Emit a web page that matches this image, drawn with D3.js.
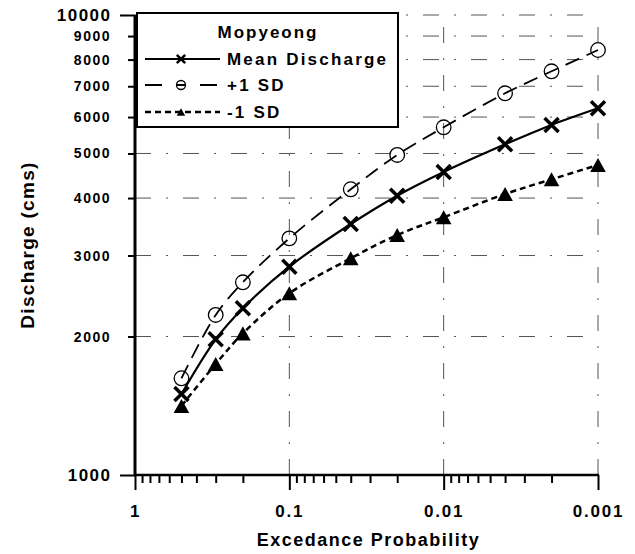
<!DOCTYPE html>
<html lang="en">
<head>
<meta charset="utf-8">
<title>Mopyeong discharge</title>
<script src="https://cdn.jsdelivr.net/npm/d3@7"></script>
<style>
  body { margin: 0; background: #fff; }
  text { font-family: "Liberation Sans", Arial, sans-serif; font-weight: bold; fill: #000; }
</style>
</head>
<body>
<script>
// data
var probs = [0.5, 0.3, 0.2, 0.1, 0.04, 0.02, 0.01, 0.004, 0.002, 0.001];
var meanQ = [1500, 1972, 2304, 2837, 3513, 4048, 4558, 5235, 5768, 6269];
var plusSD = [1623, 2228, 2624, 3269, 4180, 4963, 5700, 6757, 7544, 8393];
var minusSD = [1413, 1743, 2032, 2483, 2958, 3325, 3633, 4082, 4393, 4720];

var xMajor = [1, 0.1, 0.01, 0.001];
var xLabels = ["1", "0.1", "0.01", "0.001"];
var yTicks = [1000, 2000, 3000, 4000, 5000, 6000, 7000, 8000, 9000, 10000];
var legendTitle = "Mopyeong";
var seriesNames = ["Mean Discharge", "+1 SD", "-1 SD"];

var w = 635, h = 554;
var pLeft = 135, pRight = 598, pTop = 15, pBottom = 475;

var svg = d3.select("body").append("svg")
    .attr("width", w)
    .attr("height", h);

var x = d3.scaleLog().domain([1, 0.001]).range([pLeft, pRight]);
var y = d3.scaleLog().domain([1000, 10000]).range([pBottom, pTop]);

// minor ticks for x (2..9 in each decade)
var xMinor = [];
xMajor.slice(0, 3).forEach(function(d) {
  for (var k = 2; k <= 9; k++) xMinor.push(d * k / 10);
});

// grid
var gridDash = "16,15,2,15";
svg.append("g").selectAll("line")
   .data(yTicks.slice(1))
   .enter().append("line")
   .attr("x1", pLeft).attr("x2", pRight)
   .attr("y1", function(d) { return y(d); })
   .attr("y2", function(d) { return y(d); })
   .attr("stroke", "#555").attr("stroke-width", 1)
   .attr("stroke-dasharray", gridDash);

svg.append("g").selectAll("line")
   .data(xMajor.slice(1))
   .enter().append("line")
   .attr("x1", function(d) { return x(d); })
   .attr("x2", function(d) { return x(d); })
   .attr("y1", pBottom).attr("y2", pTop)
   .attr("stroke", "#555").attr("stroke-width", 1)
   .attr("stroke-dasharray", gridDash);

// x axis
var xAxis = svg.append("g")
   .attr("transform", "translate(0," + pBottom + ")")
   .call(d3.axisBottom(x).tickValues(xMajor.concat(xMinor)).tickSize(8).tickFormat(""));
xAxis.select(".domain").remove();
xAxis.selectAll(".tick line").attr("stroke-width", 2);
xAxis.selectAll(".tick").filter(function(d) { return xMajor.indexOf(d) >= 0; })
     .select("line").attr("y2", 15);
xAxis.selectAll(".tick").filter(function(d) { return xMajor.indexOf(d) >= 0; })
     .select("text")
     .text(function(d) { return xLabels[xMajor.indexOf(d)]; })
     .attr("y", 30)
     .attr("font-size", "17px")
     .attr("letter-spacing", "1.8px")
     .attr("font-family", "Liberation Sans, Arial, sans-serif")
     .attr("font-weight", "bold")
     .attr("fill", "#000");
svg.append("line")
   .attr("x1", pLeft - 1).attr("x2", pRight + 1)
   .attr("y1", pBottom).attr("y2", pBottom)
   .attr("stroke", "#000").attr("stroke-width", 2.5);

// y axis
var yAxis = svg.append("g")
   .attr("transform", "translate(" + pLeft + ",0)")
   .call(d3.axisLeft(y).tickValues(yTicks).tickSize(7).tickPadding(17).tickFormat(d3.format("d")));
yAxis.select(".domain").remove();
yAxis.selectAll(".tick line").attr("stroke-width", 2);
yAxis.selectAll(".tick text")
     .attr("font-size", "14px")
     .attr("letter-spacing", "1.5px")
     .attr("font-family", "Liberation Sans, Arial, sans-serif")
     .attr("font-weight", "bold")
     .attr("fill", "#000");
yAxis.selectAll(".tick").filter(function(d) { return d === 1000 || d === 10000; })
     .each(function() {
       d3.select(this).select("line").attr("x2", -15);
       d3.select(this).select("text").attr("x", -23.5).attr("font-size", "17px");
     });
svg.append("line")
   .attr("x1", pLeft).attr("x2", pLeft)
   .attr("y1", pTop).attr("y2", pBottom + 1)
   .attr("stroke", "#000").attr("stroke-width", 3);

// axis titles
svg.append("text")
   .attr("x", (pLeft + pRight) / 2 + 2)
   .attr("y", 546)
   .attr("text-anchor", "middle")
   .attr("font-size", "18px")
   .attr("letter-spacing", "1.5px")
   .text("Excedance Probability");

svg.append("text")
   .attr("transform", "translate(34,245) rotate(-90)")
   .attr("text-anchor", "middle")
   .attr("font-size", "19px")
   .attr("letter-spacing", "1.3px")
   .text("Discharge (cms)");

// series
var series = [
  { values: meanQ, dash: null, legendDash: null, width: 2.2, marker: "x" },
  { values: plusSD, dash: "15,8", legendDash: "17,14,10,14,17", width: 1.8, marker: "circle" },
  { values: minusSD, dash: "6,4", legendDash: "6,4", width: 2.5, marker: "tri" }
];

var line = d3.line()
   .x(function(d) { return x(d[0]); })
   .y(function(d) { return y(d[1]); })
   .curve(d3.curveCatmullRom.alpha(0.5));

function drawMarker(g, type, cx, cy, s) {
  if (type === "x") {
    g.append("path")
     .attr("d", "M" + (cx - s) + "," + (cy - s) + "L" + (cx + s) + "," + (cy + s) +
                "M" + (cx - s) + "," + (cy + s) + "L" + (cx + s) + "," + (cy - s))
     .attr("stroke", "#000").attr("stroke-width", s > 5 ? 3.5 : 2.5).attr("fill", "none");
  } else if (type === "circle") {
    g.append("circle")
     .attr("cx", cx).attr("cy", cy).attr("r", s)
     .attr("stroke", "#000").attr("stroke-width", 1.3).attr("fill", "none");
  } else {
    g.append("path")
     .attr("d", "M" + cx + "," + (cy - s * 0.9) + "L" + (cx + s) + "," + (cy + s * 0.9) +
                "L" + (cx - s) + "," + (cy + s * 0.9) + "Z")
     .attr("fill", "#000");
  }
}

series.forEach(function(s) {
  var pts = probs.map(function(p, i) { return [p, s.values[i]]; });
  svg.append("path")
     .datum(pts)
     .attr("d", line)
     .attr("fill", "none")
     .attr("stroke", "#000")
     .attr("stroke-width", s.width)
     .attr("stroke-dasharray", s.dash);
  var g = svg.append("g");
  pts.forEach(function(d) {
    drawMarker(g, s.marker, x(d[0]), y(d[1]), s.marker === "circle" ? 7.3 : (s.marker === "x" ? 7 : 7.8));
  });
});

// legend
var lg = svg.append("g");
lg.append("rect")
  .attr("x", 137).attr("y", 13)
  .attr("width", 261).attr("height", 114)
  .attr("fill", "#fff").attr("stroke", "#000").attr("stroke-width", 2);
lg.append("text")
  .attr("x", 268).attr("y", 38)
  .attr("text-anchor", "middle")
  .attr("font-size", "17px")
  .attr("letter-spacing", "2px")
  .text(legendTitle);

var legendY = [59, 85, 112];
series.forEach(function(s, i) {
  lg.append("line")
    .attr("x1", 145).attr("x2", 220)
    .attr("y1", legendY[i]).attr("y2", legendY[i])
    .attr("stroke", "#000")
    .attr("stroke-width", s.width)
    .attr("stroke-dasharray", s.legendDash);
  drawMarker(lg, s.marker, 181, legendY[i], s.marker === "circle" ? 4.5 : 4.2);
  lg.append("text")
    .attr("x", 227).attr("y", legendY[i] + 6)
    .attr("font-size", "17px")
    .attr("letter-spacing", "2.2px")
    .text(seriesNames[i]);
});
</script>
</body>
</html>
